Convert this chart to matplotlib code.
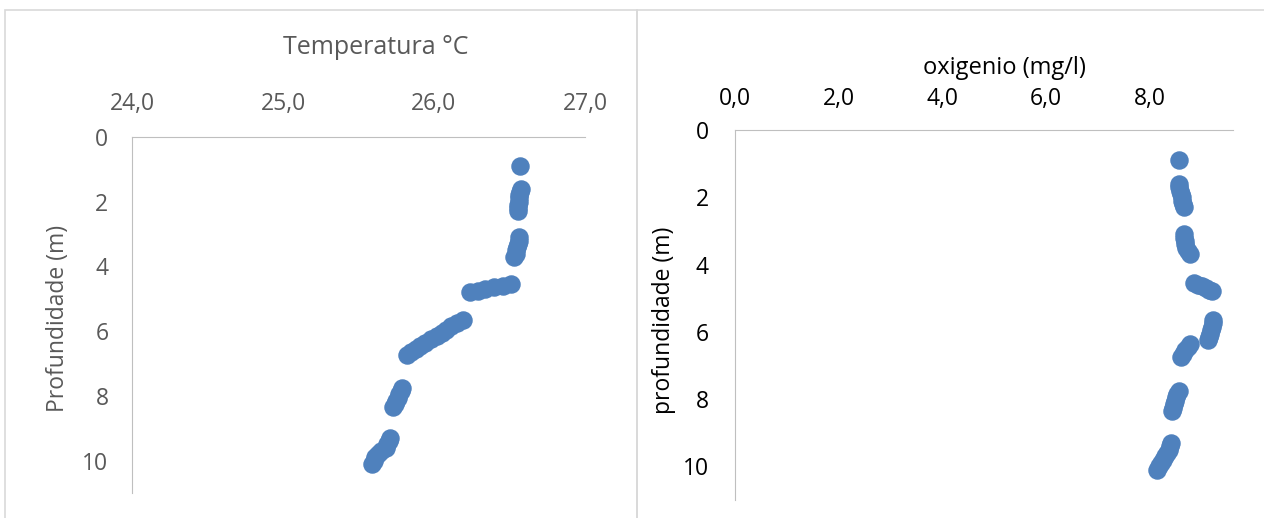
import matplotlib.pyplot as plt
from matplotlib.patches import Rectangle

# depth of each reading (m), shared by both profiles
depth = [0.9,
         1.6, 1.7, 1.8, 1.9, 2.0, 2.1, 2.2, 2.3,
         3.1, 3.2, 3.3, 3.4, 3.5, 3.6, 3.7,
         4.55, 4.6, 4.65, 4.7, 4.75, 4.8,
         5.65, 5.75, 5.85, 5.95, 6.05, 6.15, 6.25, 6.35, 6.45, 6.55, 6.65, 6.75,
         7.75, 7.85, 7.95, 8.05, 8.15, 8.25, 8.35,
         9.3, 9.4, 9.5, 9.6, 9.7, 9.8, 9.9, 10.0, 10.1]

temperatura = [26.57,
               26.575, 26.57, 26.565, 26.56, 26.56, 26.555, 26.555, 26.555,
               26.56, 26.56, 26.555, 26.55, 26.545, 26.54, 26.53,
               26.51, 26.46, 26.40, 26.34, 26.29, 26.24,
               26.19, 26.15, 26.11, 26.08, 26.05, 26.02, 25.98, 25.94, 25.91, 25.88, 25.85, 25.82,
               25.79, 25.78, 25.77, 25.76, 25.75, 25.74, 25.73,
               25.71, 25.70, 25.69, 25.68, 25.65, 25.63, 25.61, 25.60, 25.59]

oxigenio = [8.55,
            8.55, 8.56, 8.58, 8.59, 8.61, 8.62, 8.64, 8.65,
            8.65, 8.66, 8.67, 8.68, 8.70, 8.74, 8.78,
            8.84, 8.92, 9.00, 9.07, 9.14, 9.20,
            9.22, 9.21, 9.19, 9.17, 9.15, 9.13, 9.12, 8.78, 8.74, 8.68, 8.63, 8.59,
            8.55, 8.53, 8.51, 8.49, 8.47, 8.45, 8.43,
            8.40, 8.39, 8.37, 8.33, 8.29, 8.25, 8.21, 8.18, 8.14]

temp_ticks = [24.0, 25.0, 26.0, 27.0]
oxi_ticks = [0.0, 2.0, 4.0, 6.0, 8.0]
depth_ticks = [0, 2, 4, 6, 8, 10]

plt.rcParams['font.family'] = ['Open Sans', 'DejaVu Sans']

W, H = 1264, 518
fig = plt.figure(figsize=(W / 100, H / 100), dpi=100)

# chart borders (Excel style)
for x0, x1 in [(5, 637), (637, 1270)]:
    fig.patches.append(Rectangle((x0 / W, -0.1), (x1 - x0) / W, 1.1 - 10 / H,
                                 transform=fig.transFigure, fill=False,
                                 edgecolor='#d9d9d9', lw=1.2))

def box(l, r, t, b):
    return [l / W, 1 - b / H, (r - l) / W, (b - t) / H]

blue = '#4f81bd'
gray = '#595959'
axis_col = '#bfbfbf'

# left: temperature
ax1 = fig.add_axes(box(132, 585, 137, 493))
ax1.plot(temperatura, depth, 'o', color=blue, ms=12.3, mec=blue)
ax1.set_xlim(24, 27)
ax1.set_ylim(11, 0)
ax1.xaxis.tick_top()
ax1.set_xticks(temp_ticks, [f'{v:.1f}'.replace('.', ',') for v in temp_ticks])
ax1.set_yticks(depth_ticks)
ax1.tick_params(length=0, labelsize=16.5, colors=gray)
ax1.tick_params(axis='x', pad=15)
ax1.tick_params(axis='y', pad=17)
for s in ['right', 'bottom']:
    ax1.spines[s].set_visible(False)
for s in ['top', 'left']:
    ax1.spines[s].set_color(axis_col)
fig.text(376 / W, 1 - 47 / H, 'Temperatura °C', ha='center', va='center',
         fontsize=18, color=gray)
fig.text(58 / W, 1 - 318 / H, 'Profundidade (m)', ha='center', va='center',
         rotation=90, fontsize=16.5, color=gray)

# right: oxygen
ax2 = fig.add_axes(box(735, 1233, 130, 500))
ax2.plot(oxigenio, depth, 'o', color=blue, ms=12.3, mec=blue)
ax2.set_xlim(0, 9.6)
ax2.set_ylim(11, 0)
ax2.xaxis.tick_top()
ax2.set_xticks(oxi_ticks, [f'{v:.1f}'.replace('.', ',') for v in oxi_ticks])
ax2.set_yticks(depth_ticks)
ax2.tick_params(length=0, labelsize=16.5, colors='black')
ax2.tick_params(axis='x', pad=14)
ax2.tick_params(axis='y', pad=19)
for s in ['right', 'bottom']:
    ax2.spines[s].set_visible(False)
for s in ['top', 'left']:
    ax2.spines[s].set_color(axis_col)
fig.text(1004 / W, 1 - 68 / H, 'oxigenio (mg/l)', ha='center', va='center',
         fontsize=17, color='black')
fig.text(664 / W, 1 - 320 / H, 'profundidade (m)', ha='center', va='center',
         rotation=90, fontsize=16.5, color='black')

fig.savefig('out.png', dpi=100)
